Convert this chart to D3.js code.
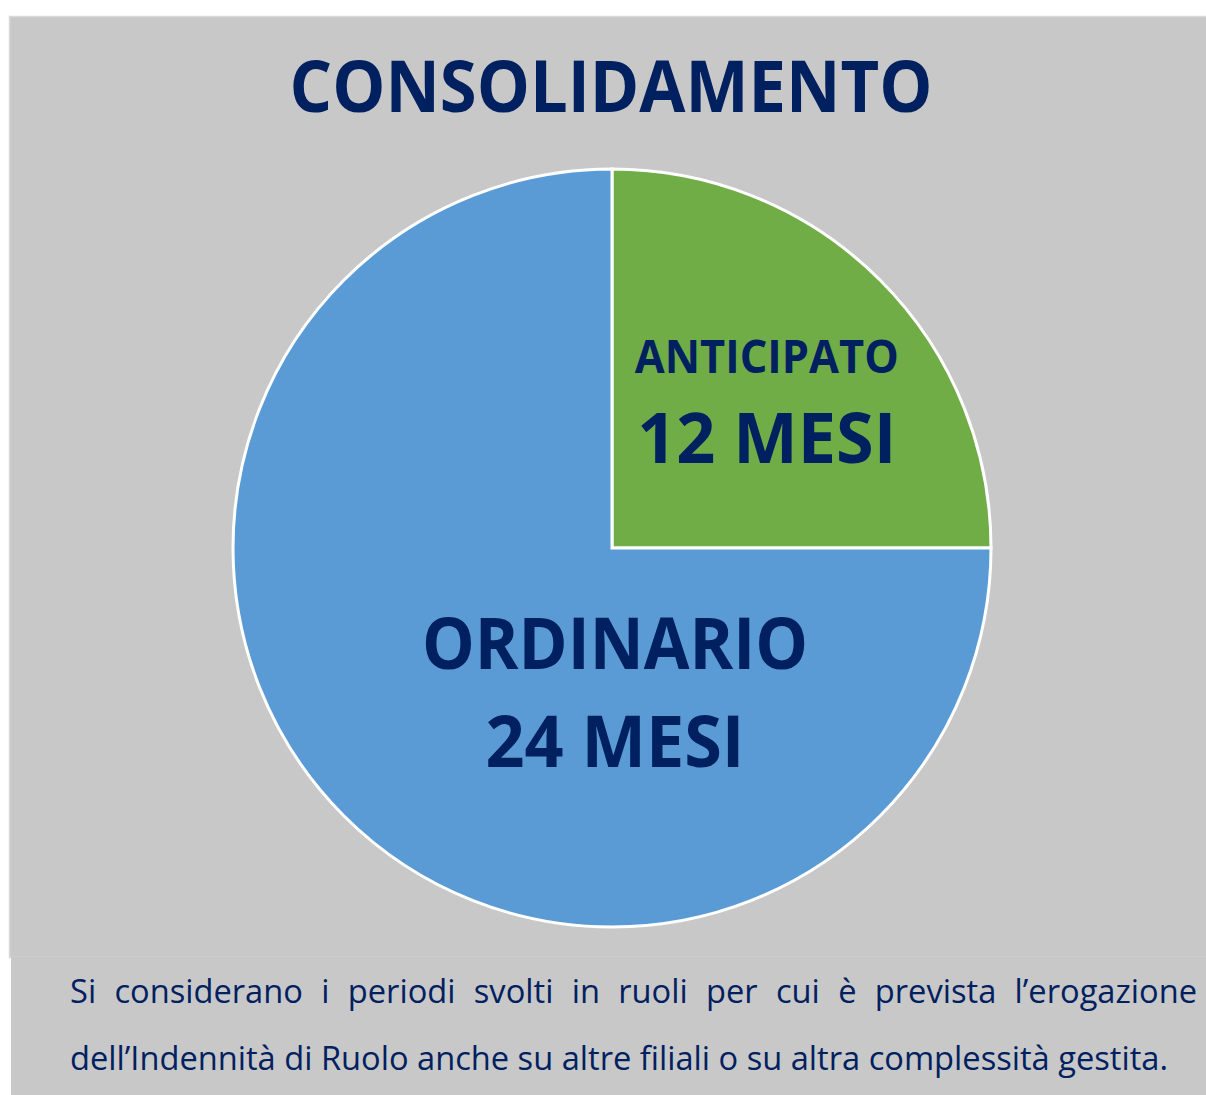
<!DOCTYPE html>
<html>
<head>
<meta charset="utf-8">
<script src="https://cdn.jsdelivr.net/npm/d3@7"></script>
<style>
  body { margin: 0; background: #ffffff; }
  svg { display: block; }
</style>
</head>
<body>
<div id="chart"></div>
<script>
// data
const titleText = "CONSOLIDAMENTO";
const sliceNames = ["ANTICIPATO", "ORDINARIO"];
const sliceDurations = ["12 MESI", "24 MESI"];
const sliceShares = [25, 75];           // share of the circle (quarter / three quarters)
const sliceColors = ["#70ad47", "#5b9bd5"];
const noteLines = [
    "Si considerano i periodi svolti in ruoli per cui è prevista l\u2019erogazione",
    "dell\u2019Indennità di Ruolo anche su altre filiali o su altra complessità gestita."
];

const W = 1206, H = 1095;
const navy = "#002060";
const font = "'Open Sans', 'Noto Sans', sans-serif";

const svg = d3.select("#chart").append("svg")
    .attr("width", W)
    .attr("height", H);

// background panels
svg.append("rect")
    .attr("x", 9.5).attr("y", 16.5)
    .attr("width", W).attr("height", 941)
    .attr("fill", "#c8c8c8")
    .attr("stroke", "#d9d9d9")
    .attr("stroke-width", 1.5);

svg.append("rect")
    .attr("x", 11).attr("y", 957)
    .attr("width", W).attr("height", H - 957)
    .attr("fill", "#c8c8c8");

// squeeze text to a measured width (reference font is narrower than Open Sans)
function fitWidth(sel, w) {
    sel.attr("textLength", w).attr("lengthAdjust", "spacingAndGlyphs");
}

// title
svg.append("text")
    .attr("x", 611).attr("y", 112)
    .attr("text-anchor", "middle")
    .attr("font-family", font)
    .attr("font-weight", 700)
    .attr("font-size", 71)
    .attr("fill", navy)
    .text(titleText)
    .call(fitWidth, 643);

// pie
const cx = 612, cy = 548, radius = 379;

const pie = d3.pie()
    .sort(null)
    .value(d => d)
    .startAngle(0)
    .endAngle(2 * Math.PI);

const arc = d3.arc()
    .innerRadius(0)
    .outerRadius(radius);

const g = svg.append("g")
    .attr("transform", "translate(" + cx + "," + cy + ")");

const arcs = pie(sliceShares);

g.selectAll("path.slice")
    .data(arcs)
    .join("path")
    .attr("class", "slice")
    .attr("d", arc)
    .attr("fill", (d, i) => sliceColors[i])
    .attr("stroke", "#ffffff")
    .attr("stroke-width", 3)
    .attr("stroke-linejoin", "miter");

// labels
const labelArc = d3.arc().innerRadius(0).outerRadius(radius * 1.155);

// green slice: centred on its centroid
const c0 = labelArc.centroid(arcs[0]);
const lab0 = g.append("g").attr("transform", "translate(" + c0[0] + "," + c0[1] + ")");
lab0.append("text")
    .attr("x", 0).attr("y", -20)
    .attr("text-anchor", "middle")
    .attr("font-family", font).attr("font-weight", 700)
    .attr("font-size", 46)
    .attr("fill", navy)
    .text(sliceNames[0])
    .call(fitWidth, 264);
lab0.append("text")
    .attr("x", 0).attr("y", 70)
    .attr("text-anchor", "middle")
    .attr("font-family", font).attr("font-weight", 700)
    .attr("font-size", 70)
    .attr("fill", navy)
    .text(sliceDurations[0])
    .call(fitWidth, 259);

// blue slice: label sits below the centre
const lab1 = g.append("g").attr("transform", "translate(" + 3 + "," + radius * 0.37 + ")");
lab1.append("text")
    .attr("x", 0).attr("y", -19)
    .attr("text-anchor", "middle")
    .attr("font-family", font).attr("font-weight", 700)
    .attr("font-size", 71)
    .attr("fill", navy)
    .text(sliceNames[1])
    .call(fitWidth, 386);
lab1.append("text")
    .attr("x", 0).attr("y", 79)
    .attr("text-anchor", "middle")
    .attr("font-family", font).attr("font-weight", 700)
    .attr("font-size", 72)
    .attr("fill", navy)
    .text(sliceDurations[1])
    .call(fitWidth, 259);

// note below the chart
const noteSize = 32;
const noteLeft = 70, noteRight = 1197;

// second line: left aligned, natural width 1098 in the reference
const line2 = svg.append("text")
    .attr("x", noteLeft).attr("y", 1070)
    .attr("font-family", font)
    .attr("font-size", noteSize)
    .attr("fill", navy)
    .text(noteLines[1]);
const squeeze = 1098 / line2.node().getComputedTextLength();
fitWidth(line2, 1098);

// first line: justified word by word
const words = noteLines[0].split(" ");
const wordNodes = words.map(w => svg.append("text")
    .attr("y", 1003)
    .attr("font-family", font)
    .attr("font-size", noteSize)
    .attr("fill", navy)
    .text(w));
const widths = wordNodes.map(n => n.node().getComputedTextLength() * squeeze);
const total = d3.sum(widths);
const gap = (noteRight - noteLeft - total) / (words.length - 1);
let xPos = noteLeft;
wordNodes.forEach((n, i) => {
    n.attr("x", xPos).call(fitWidth, widths[i]);
    xPos += widths[i] + gap;
});
</script>
</body>
</html>
